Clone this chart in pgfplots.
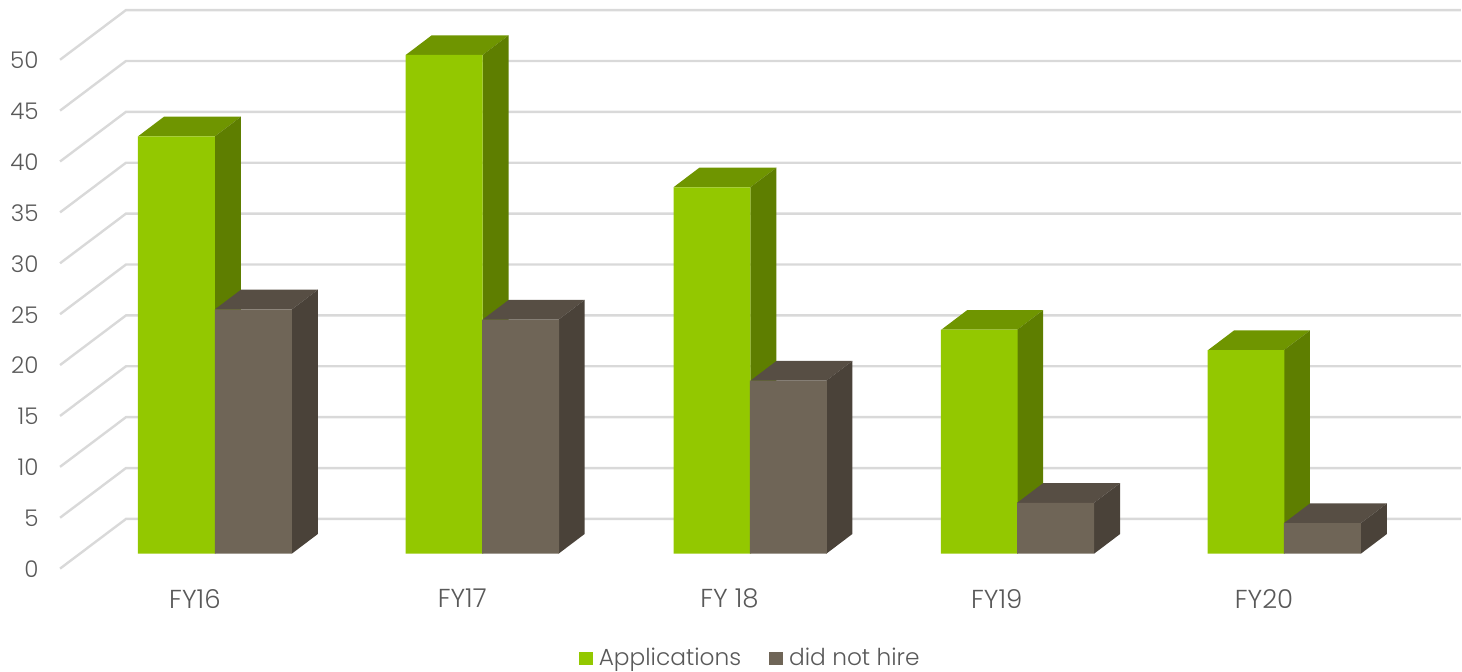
\documentclass[border=0pt]{standalone}
\usepackage{fontspec}
\setmainfont{Poppins Light}
\usepackage{pgfplots}
\pgfplotsset{compat=1.18}
\definecolor{txt}{HTML}{595959}
\definecolor{gridc}{HTML}{D9D9D9}
\definecolor{gfront}{HTML}{93C800}
\definecolor{gtop}{HTML}{6F9500}
\definecolor{gside}{HTML}{5E7E00}
\definecolor{bfront}{HTML}{6F6557}
\definecolor{btop}{HTML}{574E44}
\definecolor{bside}{HTML}{4A4239}
% left edge, right edge, value, top colour, side colour
\newcommand{\depth}[5]{%
  \addplot[fill=#4,draw=none,forget plot] coordinates {(#1,#3)(#1+26,#3+1.93)(#2+26,#3+1.93)(#2,#3)} --cycle;
  \addplot[fill=#5,draw=none,forget plot] coordinates {(#2,0)(#2+26,1.93)(#2+26,#3+1.93)(#2,#3)} --cycle;
}
\newcommand{\gridl}[1]{%
  \addplot[gridc,line width=2.4pt,forget plot] coordinates {(60,#1-1.47)(126,#1+3.41)(1462,#1+3.41)};
}
\begin{document}
\begin{tikzpicture}
\begin{axis}[
  scale only axis,width=1462pt,height=672pt,
  xmin=0,xmax=1462,ymin=-11.58,ymax=54.39,
  axis line style={draw=none},major tick length=0pt,
  ytick={0,5,...,50},
  xtick={195,462.5,730,997.5,1265},
  xticklabels={FY16,FY17,FY 18,FY19,FY20},
  y tick label style={xshift=42pt,yshift=-15.5pt,anchor=east,font=\fontsize{23}{25}\selectfont,text=txt},
  x tick label style={yshift=86pt,anchor=north,font=\fontsize{26}{28}\selectfont,text=txt},
  /pgf/number format/assume math mode=true,
  legend columns=2,
  legend style={at={(axis cs:579,-11.38)},anchor=south west,draw=none,fill=none,inner sep=0pt,
    font=\fontsize{23.3}{26}\selectfont,text=txt,
    /tikz/every even column/.style={column sep=26pt},
    /tikz/every odd column/.style={column sep=4pt}},
  clip=false,
]
\gridl{0}\gridl{5}\gridl{10}\gridl{15}\gridl{20}\gridl{25}\gridl{30}\gridl{35}\gridl{40}\gridl{45}\gridl{50}
\depth{138}{215}{41}{gtop}{gside}
\depth{406}{483}{49}{gtop}{gside}
\depth{674}{751}{36}{gtop}{gside}
\depth{942}{1018}{22}{gtop}{gside}
\depth{1209}{1285}{20}{gtop}{gside}
\addplot[ybar,bar shift=0pt,bar width=77pt,fill=gfront,draw=none,
  legend image code/.code={\fill[gfront] (0pt,-7pt) rectangle (14pt,6pt);}]
  coordinates {(176.5,41)(444.5,49)(712.5,36)(980,22)(1247,20)};
\addlegendentry{Applications}
\depth{215}{292}{24}{btop}{bside}
\depth{483}{559}{23}{btop}{bside}
\depth{751}{827}{17}{btop}{bside}
\depth{1018}{1095}{5}{btop}{bside}
\depth{1285}{1362}{3}{btop}{bside}
\addplot[ybar,bar shift=0pt,bar width=77pt,fill=bfront,draw=none,
  legend image code/.code={\fill[bfront] (0pt,-7pt) rectangle (14pt,6pt);}]
  coordinates {(253.5,24)(521,23)(789,17)(1056.5,5)(1323.5,3)};
\addlegendentry{did not hire}
\end{axis}
\end{tikzpicture}
\end{document}
